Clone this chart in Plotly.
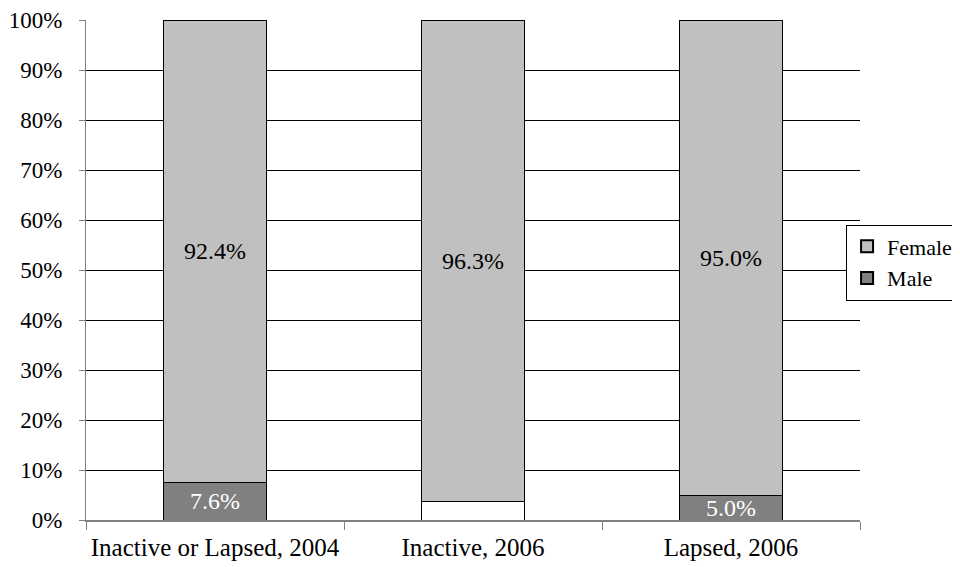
import plotly.graph_objects as go

categories = ["Inactive or Lapsed, 2004", "Inactive, 2006", "Lapsed, 2006"]
male = [0.076, 0.037, 0.050]
female = [0.924, 0.963, 0.950]
male_labels = ["7.6%", "3.7%", "5.0%"]
female_labels = ["92.4%", "96.3%", "95.0%"]

male_colors = ["#808080", "#FFFFFF", "#808080"]
font_family = "Liberation Serif"

fig = go.Figure()
fig.add_trace(go.Bar(
    x=categories, y=male, name="Male",
    marker=dict(color=male_colors, line=dict(color="black", width=1)),
    text=male_labels, textposition="inside", insidetextanchor="middle",
    constraintext="none", textangle=0,
    textfont=dict(color="white", size=24, family=font_family),
    width=0.4,
))
fig.add_trace(go.Bar(
    x=categories, y=female, name="Female",
    marker=dict(color="#C0C0C0", line=dict(color="black", width=1)),
    text=female_labels, textposition="inside", insidetextanchor="middle",
    constraintext="none", textangle=0,
    textfont=dict(color="black", size=24, family=font_family),
    width=0.4,
))

fig.update_layout(
    barmode="stack",
    width=952, height=559,
    margin=dict(l=78, r=100, t=12, b=47, autoexpand=False),
    paper_bgcolor="white", plot_bgcolor="white",
    font=dict(family=font_family, size=23, color="black"),
    legend=dict(
        x=0.982, xanchor="left", y=0.515, yanchor="middle",
        bordercolor="black", borderwidth=1,
        font=dict(size=22, family=font_family),
        traceorder="reversed", itemsizing="constant",
        tracegroupgap=0, itemwidth=30,
    ),
    showlegend=True,
)
fig.update_yaxes(
    range=[0, 1], dtick=0.1, tickformat=".0%",
    showgrid=True, gridcolor="black", gridwidth=1,
    showline=True, linecolor="#808080", linewidth=1,
    ticks="outside", ticklen=6, tickcolor="#808080",
    ticklabelstandoff=12,
    zeroline=False, automargin=False,
    tickfont=dict(size=23, family=font_family),
)
fig.update_xaxes(
    showline=True, linecolor="#808080", linewidth=2,
    ticks="outside", tickson="boundaries", ticklen=8, tickcolor="#808080",
    ticklabelstandoff=4, tickangle=0,
    automargin=False,
    tickfont=dict(size=25, family=font_family),
    showgrid=False,
)

fig.write_html("out.html")
